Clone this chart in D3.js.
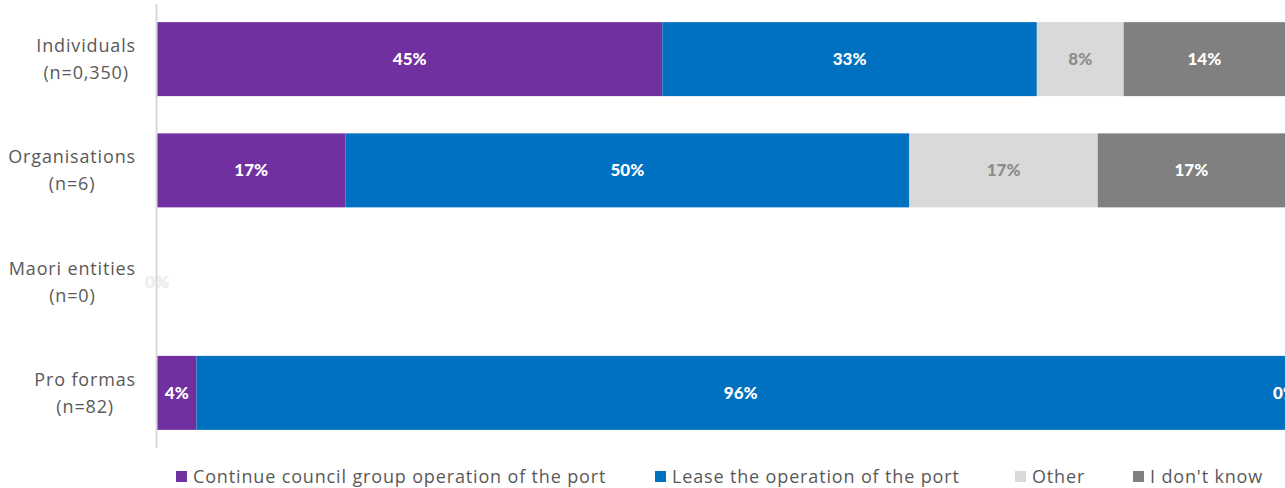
<!DOCTYPE html>
<html><head><meta charset="utf-8">
<script src="https://cdn.jsdelivr.net/npm/d3@7"></script>
<style>
body{margin:0;background:#fff;}
svg{display:block;}
</style></head>
<body>
<svg id="c" width="1285" height="488"></svg>
<script>
const categories = ["Individuals|(n=0,350)", "Organisations|(n=6)", "Maori entities|(n=0)", "Pro formas|(n=82)"];
const seriesNames = ["Continue council group operation of the port", "Lease the operation of the port", "Other", "I don't know"];
const seriesColors = ["#7030a0", "#0070c0", "#d9d9d9", "#808080"];
const labelColors = ["#ffffff", "#ffffff", "#8c8c8c", "#ffffff"];
const continueVals = [44.8, 16.7, 0, 3.5];
const leaseVals = [33.2, 50.0, 0, 96.5];
const otherVals = [7.7, 16.7, 0, 0];
const dontKnowVals = [14.3, 16.6, 0, 0];
const labelTexts = [["45%","33%","8%","14%"],["17%","50%","17%","17%"],["0%","0%","0%","0%"],["4%","96%","0%","0%"]];

const seriesVals = [continueVals, leaseVals, otherVals, dontKnowVals];
const rows = categories.map((c,i)=>{const o={cat:c}; seriesNames.forEach((s,j)=>o[s]=seriesVals[j][i]); return o;});
const stack = d3.stack().keys(seriesNames)(rows);

const svg = d3.select("#c");
const x0 = 157;
const x = d3.scaleLinear().domain([0,100]).range([x0, x0+1128]);
const y = d3.scaleBand().domain(categories).range([3.5,448.5]).paddingInner(0.335).paddingOuter(0.1675);

const textFont = "'Open Sans', sans-serif";
const textStyle = sel => sel.attr("font-family",textFont).attr("font-size","18px")
  .attr("letter-spacing","0.85px").attr("fill","#595959");

// bars
stack.forEach((layer,j)=>{
  svg.append("g").selectAll("rect").data(layer).join("rect")
    .attr("x", d=>x(d[0])).attr("y", d=>y(d.data.cat))
    .attr("width", d=>x(d[1])-x(d[0])).attr("height", y.bandwidth())
    .attr("fill", seriesColors[j]);
});
// labels
stack.forEach((layer,j)=>{
  svg.append("g").selectAll("text").data(layer).join("text")
    .attr("x", d=>(x(d[0])+x(d[1]))/2)
    .attr("y", d=>y(d.data.cat)+y.bandwidth()/2)
    .attr("dy","0.35em").attr("text-anchor","middle")
    .attr("font-family","Lato, 'Open Sans', sans-serif").attr("font-weight","900")
    .attr("font-size","17px")
    .attr("fill", (d,i)=> i===2 ? "#eeeeee" : labelColors[j])
    .text((d,i)=>labelTexts[i][j]);
});

// axis
const yAxis = d3.axisLeft(y).tickSize(0).tickFormat("");
const ag = svg.append("g").attr("transform",`translate(${x0-0.5},0)`).call(yAxis);
ag.select(".domain").attr("stroke","#d9d9d9").attr("stroke-width",2).attr("d","M0,4V448");

// category labels: lines centred within block, block right-aligned at 136
const rightEdge = 136;
categories.forEach(d=>{
  const parts = d.split("|");
  const cy = y(d)+y.bandwidth()/2;
  const g = svg.append("g");
  const ts = parts.map((p,k)=> g.append("text").call(textStyle)
     .attr("text-anchor","middle").attr("y", cy - 7 + k*27).text(p));
  const maxW = d3.max(ts, t=>t.node().getComputedTextLength());
  ts.forEach(t=>t.attr("x", rightEdge - maxW/2));
});

// legend
const legX = [176, 655, 1015, 1133];
const lg = svg.append("g").selectAll("g").data(seriesNames).join("g")
  .attr("transform",(d,i)=>`translate(${legX[i]},471)`);
lg.append("rect").attr("width",11).attr("height",11).attr("fill",(d,i)=>seriesColors[i]);
lg.append("text").attr("x",17).attr("y",11.5).call(textStyle).text(d=>d);
</script>
</body></html>
